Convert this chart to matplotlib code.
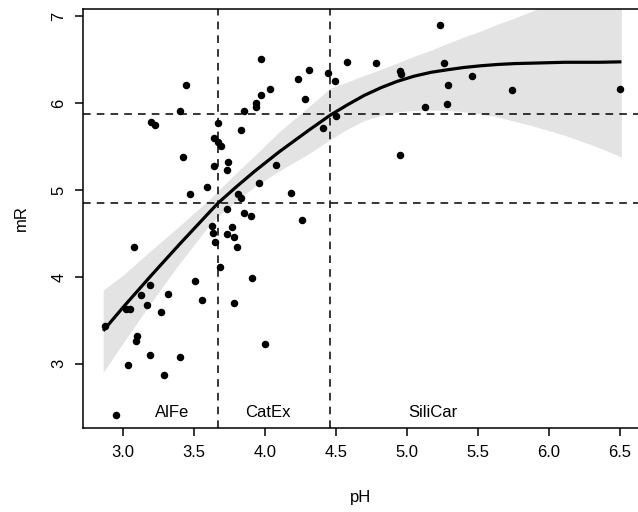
import numpy as np
import matplotlib.pyplot as plt

plt.rcParams['font.family'] = ['Liberation Sans', 'DejaVu Sans']

# --- data ---
ph = [3.44, 3.40, 3.195, 3.225, 3.67, 3.64, 3.67, 3.69, 3.42, 3.64,
      3.59, 3.475, 3.975, 4.035, 3.975, 3.94, 3.94, 3.85, 3.83, 3.74,
      3.73, 4.08, 3.955, 3.81, 3.83, 3.73, 3.85, 3.90, 4.31, 4.23,
      4.445, 4.49, 4.28, 4.41, 4.50, 4.58, 4.78, 4.95, 4.96, 5.23,
      5.26, 5.29, 5.28, 5.13, 5.46, 5.74, 6.50, 4.95, 4.18, 3.625,
      3.636, 3.648, 3.77, 3.73, 3.78, 3.80, 4.26, 3.68, 3.91, 3.78,
      4.00, 3.08, 3.51, 3.556, 3.19, 3.125, 3.32, 3.17, 3.27, 3.02,
      3.05, 2.87, 3.10, 3.09, 3.19, 3.40, 3.035, 3.29, 2.95]
mr = [6.21, 5.91, 5.78, 5.75, 5.77, 5.60, 5.55, 5.51, 5.38, 5.28,
      5.03, 4.95, 6.51, 6.16, 6.09, 6.00, 5.96, 5.91, 5.69, 5.32,
      5.23, 5.29, 5.08, 4.96, 4.91, 4.78, 4.74, 4.70, 6.38, 6.28,
      6.35, 6.25, 6.05, 5.71, 5.85, 6.47, 6.46, 6.37, 6.34, 6.90,
      6.46, 6.21, 5.99, 5.95, 6.31, 6.15, 6.16, 5.40, 4.97, 4.59,
      4.51, 4.40, 4.58, 4.49, 4.46, 4.35, 4.65, 4.11, 3.99, 3.70,
      3.23, 4.34, 3.95, 3.73, 3.91, 3.79, 3.80, 3.68, 3.60, 3.63,
      3.63, 3.43, 3.32, 3.26, 3.10, 3.08, 2.99, 2.87, 2.41]

# fitted curve and its confidence band
fit_x = [2.86, 3.00, 3.20, 3.40, 3.60, 3.669, 3.80, 3.93, 4.10, 4.31,
         4.458, 4.58, 4.70, 4.82, 4.93, 5.05, 5.17, 5.29, 5.40, 5.52,
         5.64, 5.76, 5.88, 6.11, 6.35, 6.51]
fit_y = [3.38, 3.65, 4.02, 4.38, 4.73, 4.85, 5.04, 5.22, 5.44, 5.69,
         5.86, 5.98, 6.09, 6.18, 6.25, 6.31, 6.355, 6.385, 6.41, 6.43,
         6.445, 6.455, 6.46, 6.47, 6.47, 6.475]
fit_hi = [3.85, 4.02, 4.31, 4.59, 4.88, 4.99, 5.20, 5.40, 5.67, 5.96,
          6.17, 6.245, 6.32, 6.39, 6.46, 6.54, 6.61, 6.69, 6.76, 6.83,
          6.91, 6.98, 7.06, 7.20, 7.35, 7.45]
fit_lo = [2.90, 3.24, 3.71, 4.16, 4.58, 4.70, 4.88, 5.04, 5.22, 5.42,
          5.58, 5.70, 5.80, 5.86, 5.90, 5.915, 5.92, 5.915, 5.90, 5.875,
          5.84, 5.79, 5.74, 5.63, 5.49, 5.38]

# thresholds
ph_cuts = [3.669, 4.458]
mr_cuts = [4.85, 5.88]

zones = ["AlFe", "CatEx", "SiliCar"]
zone_x = [3.345, 4.02, 5.18]
zone_y = 2.435

# --- plot ---
fig = plt.figure(figsize=(6.38, 5.12), dpi=100)
ax = fig.add_axes([83 / 638, (512 - 428) / 512, 555 / 638, 419 / 512])

ax.fill_between(fit_x, fit_lo, fit_hi, color='#e3e3e3', lw=0, zorder=1)
ax.plot(fit_x, fit_y, color='black', lw=2.3, zorder=3, solid_capstyle='butt')
ax.plot(ph, mr, 'o', color='black', ms=4.4, zorder=4)

for v in ph_cuts:
    ax.axvline(v, color='black', lw=1.1, dashes=(5, 4), zorder=2)
for h in mr_cuts:
    ax.axhline(h, color='black', lw=1.1, dashes=(5, 4), zorder=2)

for name, zx in zip(zones, zone_x):
    ax.text(zx, zone_y, name, ha='center', va='center', fontsize=12)

ax.set_xlim(2.718, 6.627)
ax.set_ylim(2.262, 7.083)
ax.set_xticks([3.0, 3.5, 4.0, 4.5, 5.0, 5.5, 6.0, 6.5])
ax.set_xticklabels(['3.0', '3.5', '4.0', '4.5', '5.0', '5.5', '6.0', '6.5'])
ax.set_yticks([3, 4, 5, 6, 7])
ax.set_yticklabels(['3', '4', '5', '6', '7'], rotation=90, va='center')

ax.spines['right'].set_visible(False)
for s in ['left', 'bottom', 'top']:
    ax.spines[s].set_linewidth(1.1)
ax.tick_params(length=6, width=1.1, labelsize=12, pad=6)

ax.set_xlabel('pH', fontsize=12, labelpad=22)
ax.set_ylabel('mR', fontsize=12, labelpad=16)

fig.savefig('out.png', dpi=100)
